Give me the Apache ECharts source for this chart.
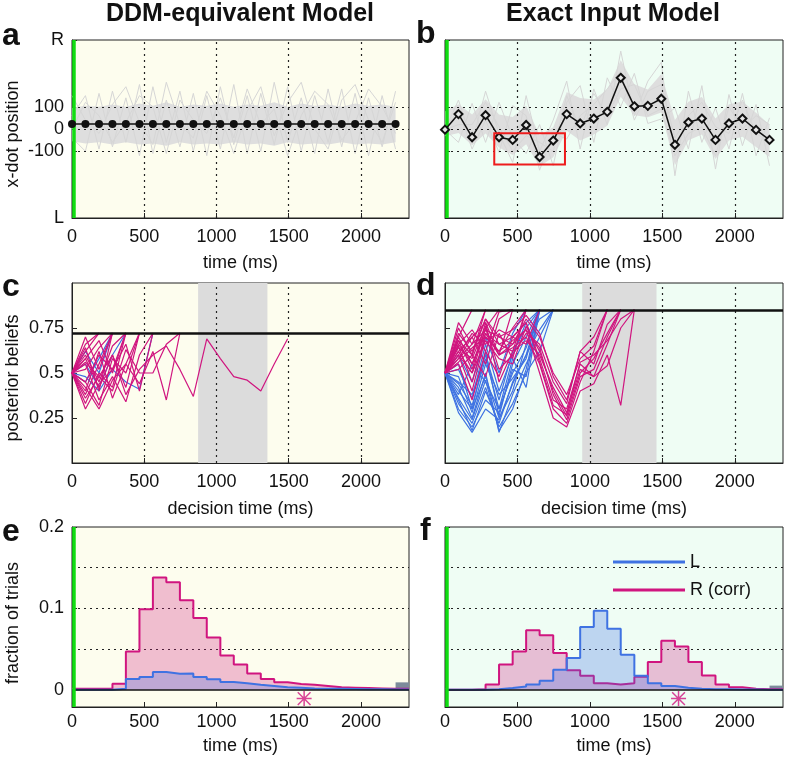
<!DOCTYPE html>
<html>
<head>
<meta charset="utf-8">
<script src="https://cdn.jsdelivr.net/npm/echarts@6/dist/echarts.min.js"></script>
<style>
html,body{margin:0;padding:0;background:#fff;}
#chart{width:787px;height:765px;}
</style>
</head>
<body>
<div id="chart"></div>
<script>
var FONT = '"Liberation Sans", Arial, sans-serif';

// frame times (ms), one frame every ~93 ms
var frameT = [0,93,187,280,373,467,560,653,747,840,933,1027,1120,1213,1307,1400,1493,1587,1680,1773,1867,1960,2053,2147,2240];
var tMax = 2333;
var xTicks = [0,500,1000,1500,2000];

// panel a : x-dot position, DDM-equivalent stimulus
var meanA = [22,22,22,22,22,22,22,22,22,22,22,22,22,22,22,22,22,22,22,22,22,22,22,22,22];
var bandA_hi = [95,105,100,110,100,115,105,120,100,110,105,115,100,110,105,120,100,115,105,110,100,115,105,110,100];
var bandA_lo = [-55,-65,-60,-70,-60,-70,-65,-75,-60,-70,-65,-70,-60,-70,-65,-75,-60,-70,-65,-70,-60,-70,-65,-70,-60];
var tracesA = [
  [60,150,-90,170,-60,200,-110,130,-80,160,-120,190,-70,150,-100,210,-60,140,-110,180,-80,160,-120,150,-90],
  [-40,-100,160,-80,140,-120,190,-60,170,-100,150,-90,200,-110,160,-70,190,-100,150,-60,180,-110,140,-80,170],
  [150,40,-20,110,190,30,-70,210,20,-40,170,60,-110,80,190,-30,120,210,0,-90,130,200,40,-60,120],
  [0,120,60,-60,30,150,100,-110,130,40,-20,140,-40,180,20,90,-120,60,170,110,-50,30,180,100,-20]
];

// panel b : x-dot position, exact input
var meanB = [-3,67,-37,62,-37,-49,18,-126,-52,67,25,47,77,230,102,104,136,-71,30,47,-49,25,47,-4,-49];
var bandB_hi = [80,111,65,134,65,54,104,-28,8,165,139,133,178,309,201,178,247,40,123,144,47,111,124,73,19];
var bandB_lo = [-33,-18,-73,-20,-83,-117,-68,-168,-127,-8,-52,-25,15,145,62,53,74,-163,-50,-25,-135,-52,-35,-81,-126];
var tracesB = [
  [-3,130,-60,170,-20,-150,150,-100,40,215,-90,180,20,350,60,215,300,-210,170,-60,95,-90,160,-120,50],
  [-3,-60,115,-60,120,-40,-110,20,-165,120,195,-60,230,100,250,25,45,95,-90,195,-180,155,-75,110,-165],
  [-3,90,-90,40,-105,105,60,-185,-20,-45,60,110,180,260,40,170,200,-40,60,120,10,-20,130,-20,-60],
  [-3,20,20,120,10,-100,-30,-60,-100,150,0,160,60,180,200,60,90,-120,-20,10,-120,100,0,60,20]
];
var redBox = [[340,-19],[828,-160]];

// panel c : posterior beliefs, DDM-equivalent
var threshC = 0.722;
var grayC = [873,1353];
var tracesC_R = [
  [0.5,0.62,0.722],
  [0.5,0.38,0.55,0.722],
  [0.5,0.60,0.45,0.65,0.722],
  [0.5,0.33,0.50,0.42,0.722],
  [0.5,0.45,0.32,0.58,0.50,0.722],
  [0.5,0.55,0.35,0.48,0.34,0.60,0.722],
  [0.5,0.66,0.722],
  [0.5,0.40,0.62,0.36,0.55,0.44,0.62,0.35,0.722],
  [0.5,0.58,0.42,0.60,0.38,0.52,0.60,0.65,0.52,0.37,0.69,0.58,0.48,0.46,0.40,0.55,0.69],
  [0.5,0.45,0.60,0.52,0.66,0.40,0.722],
  [0.5,0.70,0.52,0.722],
  [0.5,0.42,0.30,0.46,0.55,0.722],
  [0.5,0.56,0.48,0.40,0.63,0.50,0.50,0.66,0.722],
  [0.5,0.52,0.64,0.722],
  [0.5,0.36,0.48,0.60,0.42,0.722],
  [0.5,0.64,0.40,0.722],
  [0.5,0.30,0.44,0.52,0.722],
  [0.5,0.58,0.68,0.50,0.722]
];
var tracesC_L = [
  [0.5,0.45,0.58,0.722],
  [0.5,0.55,0.42,0.60,0.722],
  [0.5,0.48,0.40,0.52,0.45,0.41,0.722],
  [0.5,0.62,0.50,0.722]
];

// panel d : posterior beliefs, exact input
var threshD = 0.852;
var grayD = [947,1460];
var tracesD_L = [
  [0.5,0.35,0.18,0.40,0.22,0.45,0.60,0.852],
  [0.5,0.42,0.25,0.50,0.17,0.38,0.55,0.70,0.852],
  [0.5,0.30,0.20,0.35,0.28,0.52,0.48,0.852],
  [0.5,0.45,0.38,0.60,0.35,0.62,0.75,0.852],
  [0.5,0.55,0.30,0.48,0.25,0.40,0.66,0.80,0.852],
  [0.5,0.38,0.55,0.45,0.30,0.58,0.42,0.852],
  [0.5,0.60,0.45,0.70,0.50,0.72,0.852],
  [0.5,0.33,0.22,0.42,0.20,0.33,0.50,0.62,0.852],
  [0.5,0.48,0.28,0.55,0.38,0.47,0.58,0.852],
  [0.5,0.40,0.30,0.62,0.26,0.55,0.70,0.852],
  [0.5,0.36,0.24,0.46,0.18,0.30,0.52,0.852],
  [0.5,0.44,0.32,0.58,0.30,0.50,0.64,0.852],
  [0.5,0.52,0.36,0.66,0.40,0.60,0.78,0.852],
  [0.5,0.28,0.17,0.30,0.24,0.44,0.60,0.74,0.852]
];
var tracesD_R = [
  [0.5,0.70,0.852],
  [0.5,0.62,0.50,0.75,0.852],
  [0.5,0.58,0.70,0.55,0.80,0.852],
  [0.5,0.65,0.45,0.72,0.60,0.852],
  [0.5,0.55,0.35,0.62,0.48,0.70,0.66,0.852],
  [0.5,0.75,0.60,0.852],
  [0.5,0.68,0.52,0.78,0.45,0.62,0.852],
  [0.5,0.60,0.40,0.70,0.62,0.75,0.852],
  [0.5,0.78,0.66,0.852],
  [0.5,0.52,0.60,0.48,0.72,0.58,0.852],
  [0.5,0.66,0.74,0.62,0.84,0.852],
  [0.5,0.66,0.55,0.74,0.60,0.64,0.70,0.55,0.30,0.22,0.45,0.62,0.852],
  [0.5,0.60,0.50,0.68,0.58,0.55,0.76,0.62,0.40,0.26,0.50,0.58,0.72,0.852],
  [0.5,0.72,0.62,0.80,0.66,0.70,0.78,0.58,0.35,0.30,0.55,0.48,0.66,0.852],
  [0.5,0.64,0.58,0.76,0.52,0.60,0.72,0.66,0.45,0.33,0.62,0.55,0.77,0.852],
  [0.5,0.56,0.64,0.70,0.62,0.68,0.74,0.50,0.25,0.20,0.40,0.44,0.60,0.32,0.852],
  [0.5,0.62,0.70,0.78,0.60,0.66,0.80,0.70,0.50,0.38,0.58,0.65,0.852],
  [0.5,0.70,0.55,0.72,0.66,0.62,0.68,0.60,0.42,0.28,0.52,0.48,0.54,0.75,0.852],
  [0.5,0.58,0.66,0.74,0.70,0.74,0.82,0.72,0.48,0.35,0.62,0.70,0.852],
  [0.5,0.68,0.60,0.80,0.70,0.66,0.74,0.64,0.38,0.24,0.48,0.52,0.70,0.852],
  [0.5,0.60,0.72,0.66,0.74,0.70,0.78,0.56,0.32,0.27,0.56,0.60,0.68,0.80,0.852]
];

// panels e, f : fraction of trials per frame bin
var histE_R = [0.001,0.001,0.001,0.0073,0.047,0.099,0.138,0.132,0.110,0.088,0.064,0.042,0.031,0.020,0.013,0.009,0.007,0.006,0.0045,0.003,0.0025,0.002,0.0015,0.001,0.001];
var histE_L = [0,0,0,0.001,0.013,0.0155,0.0216,0.0196,0.020,0.0155,0.0127,0.0094,0.008,0.006,0.0045,0.003,0.0025,0.0015,0.001,0.001,0.0008,0.0005,0.0005,0.0003,0.0003];
var histF_R = [0,0,0.0005,0.0065,0.031,0.047,0.073,0.067,0.045,0.024,0.017,0.008,0.0065,0.008,0.016,0.034,0.060,0.053,0.034,0.0175,0.0065,0.003,0.001,0.0005,0.0005];
var histF_L = [0,0,0,0.0005,0.002,0.004,0.0065,0.011,0.0245,0.039,0.077,0.097,0.075,0.043,0.017,0.008,0.0045,0.0025,0.001,0.0005,0.0005,0.0003,0.0003,0,0];
var noDecE = 0.009;
var noDecF = 0.005;
var starE = [1607,-0.011];
var starF = [1612,-0.011];

var colR = '#d0157f', colL = '#3f72e2';
var bgYellow = '#fdfdee', bgMint = '#effdf4';

function pairs(v){ return v.map(function(y,i){ return [frameT[i], y]; }); }
function histPairs(v){ var p = pairs(v); p.push([tMax, v[v.length-1]]); return p; }

var dotted = {type:[2,4], color:'#222', width:1.2};
var greenL = {type:'solid', color:'#11dd11', width:3.5};
function vl(x, s){ return {xAxis:x, lineStyle:s}; }
function hl(y, s){ return {yAxis:y, lineStyle:s}; }

function decor(gi, lines, z){
  return {type:'line', xAxisIndex:gi, yAxisIndex:gi, data:[], z:z, silent:true,
    markLine:{z:z, silent:true, symbol:'none', label:{show:false}, animation:false, data:lines}};
}
function band(gi, lo, hi){
  return {type:'custom', xAxisIndex:gi, yAxisIndex:gi, z:1, silent:true, data:[[0,0]],
    renderItem:function(params, api){
      var pts = [];
      for (var i=0;i<hi.length;i++) pts.push(api.coord([frameT[i], hi[i]]));
      for (var j=lo.length-1;j>=0;j--) pts.push(api.coord([frameT[j], lo[j]]));
      return {type:'polygon', shape:{points:pts}, style:{fill:'#dedede'}};
    }};
}
function traces(gi, list, color, width, z){
  return list.map(function(v){
    return {type:'line', xAxisIndex:gi, yAxisIndex:gi, data:pairs(v), symbol:'none', silent:true,
      lineStyle:{color:color, width:width}, z:z};
  });
}
function shade(gi, rng){
  return {type:'line', xAxisIndex:gi, yAxisIndex:gi, data:[], z:1, silent:true,
    markArea:{z:1, silent:true, itemStyle:{color:'#dcdcdc'}, data:[[{xAxis:rng[0]},{xAxis:rng[1]}]]}};
}

function xAx(gi, name, gap, margin){
  return {type:'value', gridIndex:gi, min:0, max:tMax, name:name, nameLocation:'middle', nameGap:gap,
    nameTextStyle:{fontSize:18, color:'#111', fontFamily:FONT},
    axisLine:{show:true, onZero:false, lineStyle:{color:'#222'}},
    axisTick:{show:true, inside:true, length:5, customValues:xTicks, lineStyle:{color:'#222'}},
    axisLabel:{customValues:xTicks, fontSize:18, color:'#111', margin:margin, fontFamily:FONT,
      formatter:function(v){ return String(v); }},
    splitLine:{show:false}};
}
function yAx(gi, min, max, ticks, labels, fmt){
  return {type:'value', gridIndex:gi, min:min, max:max,
    axisLine:{show:true, onZero:false, lineStyle:{color:'#222'}},
    axisTick:{show:true, inside:true, length:5, customValues:ticks, lineStyle:{color:'#222'}},
    axisLabel:{show:labels, customValues:ticks, fontSize:18, color:'#111', margin:8, fontFamily:FONT,
      formatter:fmt || function(v){ return String(v); }},
    splitLine:{show:false}};
}
function grid(l, t, w, h, bg){
  return {left:l, top:t, width:w, height:h, show:true, backgroundColor:bg, borderColor:'#222', borderWidth:1};
}

var posTicks = [-400,-100,0,100,400];
var posFmt = function(v){ return v === 400 ? 'R' : (v === -400 ? 'L' : String(v)); };
var belTicks = [0.25,0.5,0.75];
var fracTicks = [0,0.1,0.2];
var yMinE = -0.0213;

var star = 'path://M9,0L11,0L11,20L9,20Z M0,9L20,9L20,11L0,11Z M2.2,0.8L19.2,17.8L17.8,19.2L0.8,2.2Z M17.8,0.8L19.2,2.2L2.2,19.2L0.8,17.8Z';

var series = [];
// a
series.push(band(0, bandA_lo, bandA_hi));
series = series.concat(traces(0, tracesA, '#d6d6d6', 1, 2));
series.push(decor(0, [vl(500,dotted),vl(1000,dotted),vl(1500,dotted),vl(2000,dotted),
  hl(100,dotted),hl(0,dotted),hl(-100,dotted),vl(14,greenL)], 3));
series.push({type:'line', xAxisIndex:0, yAxisIndex:0, data:pairs(meanA), z:5, silent:true,
  symbol:'circle', symbolSize:8, itemStyle:{color:'#111'}, lineStyle:{color:'#111', width:1.5}});
// b
series.push(band(1, bandB_lo, bandB_hi));
series = series.concat(traces(1, tracesB, '#d6d6d6', 1, 2));
series.push(decor(1, [vl(500,dotted),vl(1000,dotted),vl(1500,dotted),vl(2000,dotted),
  hl(100,dotted),hl(0,dotted),hl(-100,dotted),vl(14,greenL)], 3));
series.push({type:'line', xAxisIndex:1, yAxisIndex:1, data:pairs(meanB), z:5, silent:true,
  symbol:'diamond', symbolSize:8, itemStyle:{color:'#e6e6e6', borderColor:'#111', borderWidth:2},
  lineStyle:{color:'#111', width:1.5}});
series.push({type:'line', xAxisIndex:1, yAxisIndex:1, data:[], z:6, silent:true,
  markArea:{z:6, silent:true, itemStyle:{color:'rgba(0,0,0,0)', borderColor:'#ee1c1c', borderWidth:2},
    data:[[{coord:redBox[0]},{coord:redBox[1]}]]}});
// c
series.push(shade(2, grayC));
series.push(decor(2, [vl(500,dotted),vl(1000,dotted),vl(1500,dotted),vl(2000,dotted)], 2));
series = series.concat(traces(2, tracesC_L, colL, 1.2, 3));
series = series.concat(traces(2, tracesC_R, colR, 1.2, 3));
series.push(decor(2, [hl(threshC, {type:'solid', color:'#111', width:2.5})], 4));
// d
series.push(shade(3, grayD));
series.push(decor(3, [vl(500,dotted),vl(1000,dotted),vl(1500,dotted),vl(2000,dotted)], 2));
series = series.concat(traces(3, tracesD_L, colL, 1.2, 3));
series = series.concat(traces(3, tracesD_R, colR, 1.2, 3));
series.push(decor(3, [hl(threshD, {type:'solid', color:'#111', width:2.5})], 4));
// e, f
[[4, histE_R, histE_L, noDecE, starE], [5, histF_R, histF_L, noDecF, starF]].forEach(function(p){
  var gi = p[0];
  series.push(decor(gi, [hl(0.05,dotted),hl(0.1,dotted),hl(0.15,dotted)], 1));
  series.push({name:'R (corr)', type:'line', xAxisIndex:gi, yAxisIndex:gi, step:'end', symbol:'none',
    data:histPairs(p[1]), color:colR, lineStyle:{color:colR, width:2},
    areaStyle:{color:'rgba(210,30,130,0.4)'}, z:3, silent:true,
    markArea:{z:3, silent:true, itemStyle:{color:'#7d8b9b'}, data:[[{coord:[frameT[frameT.length-1],0]},{coord:[tMax,p[3]]}]]}});
  series.push({name:'L', type:'line', xAxisIndex:gi, yAxisIndex:gi, step:'end', symbol:'none',
    data:histPairs(p[2]), color:colL, lineStyle:{color:colL, width:2},
    areaStyle:{color:'rgba(60,110,230,0.4)'}, z:4, silent:true});
  series.push(decor(gi, [hl(0, {type:'solid', color:'#111', width:1.5}), vl(14,greenL)], 5));
  series.push({type:'scatter', xAxisIndex:gi, yAxisIndex:gi, data:[p[4]], symbol:star, symbolSize:15,
    itemStyle:{color:colR}, z:6, silent:true});
});

function txt(t, x, y, size, bold, align, rot){
  return {type:'text', x:x, y:y, rotation:rot || 0, silent:true, z:10,
    style:{text:t, fill:'#111', font:(bold ? 'bold ' : '') + size + 'px ' + FONT,
      align:align || 'left', verticalAlign:'middle'}};
}

var option = {
  animation:false,
  backgroundColor:'#ffffff',
  textStyle:{fontFamily:FONT},
  grid:[grid(72,40,337,178,bgYellow), grid(445,40,338,178,bgMint),
        grid(72,283,337,180,bgYellow), grid(445,283,338,180,bgMint),
        grid(72,527,337,180,bgYellow), grid(445,527,338,180,bgMint)],
  xAxis:[xAx(0,'time (ms)',36,10), xAx(1,'time (ms)',36,10),
         xAx(2,'decision time (ms)',37,10), xAx(3,'decision time (ms)',37,10),
         xAx(4,'time (ms)',30,6), xAx(5,'time (ms)',30,6)],
  yAxis:[yAx(0,-400,400,posTicks,true,posFmt), yAx(1,-400,400,posTicks,false,posFmt),
         yAx(2,0,1,belTicks,true), yAx(3,0,1,belTicks,false),
         yAx(4,yMinE,0.2,fracTicks,true), yAx(5,yMinE,0.2,fracTicks,false)],
  legend:{data:['L','R (corr)'], orient:'vertical', left:608, top:548, icon:'rect',
    itemWidth:72, itemHeight:3, itemGap:10, selectedMode:false,
    textStyle:{fontSize:18, color:'#111', fontFamily:FONT}},
  graphic:[
    txt('DDM-equivalent Model', 240, 14, 25, true, 'center'),
    txt('Exact Input Model', 613, 14, 25, true, 'center'),
    txt('a', 2, 36, 32, true), txt('b', 416, 34, 32, true),
    txt('c', 2, 287, 32, true), txt('d', 416, 286, 32, true),
    txt('e', 2, 532, 32, true), txt('f', 420, 531, 32, true),
    txt('x-dot position', 13, 134, 18, false, 'center', Math.PI/2),
    txt('posterior beliefs', 13, 378, 18, false, 'center', Math.PI/2),
    txt('fraction of trials', 13, 623, 18, false, 'center', Math.PI/2)
  ],
  series:series
};

var myChart = echarts.init(document.getElementById('chart'));
myChart.setOption(option);
</script>
</body>
</html>
